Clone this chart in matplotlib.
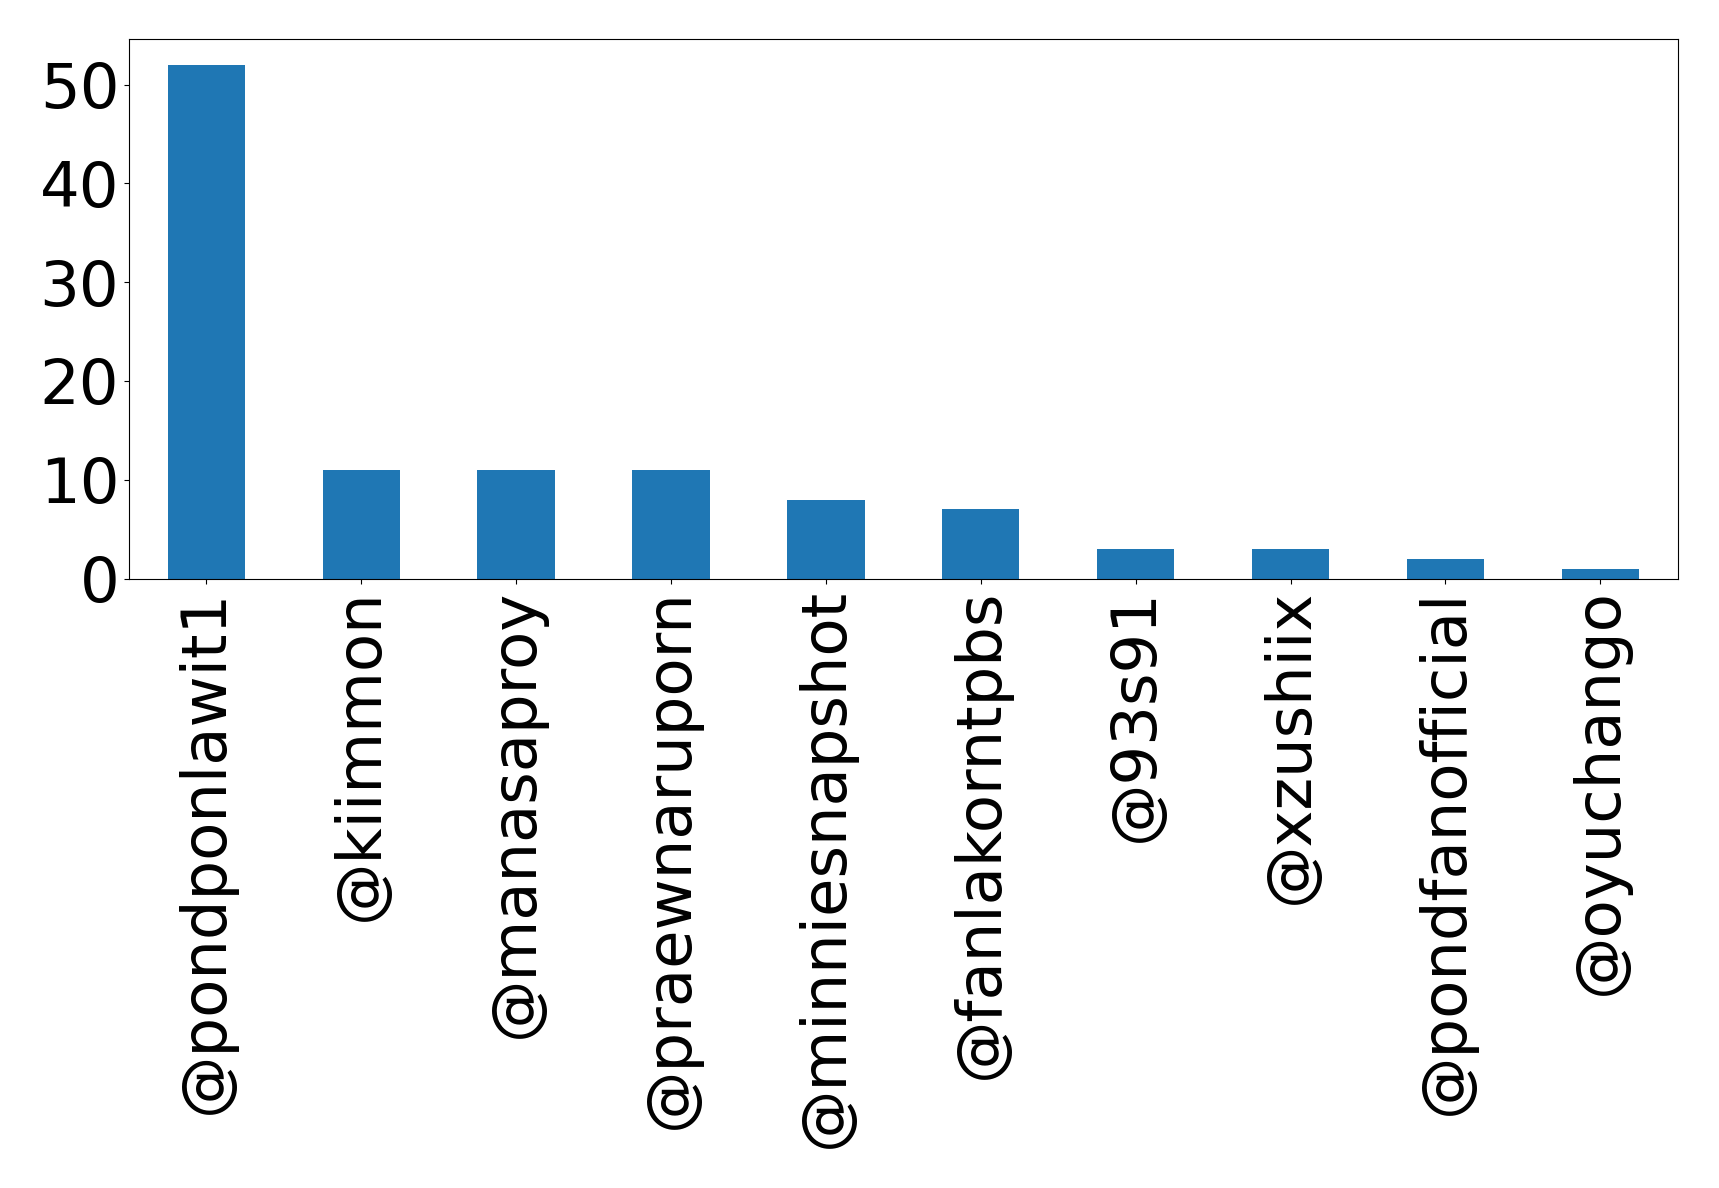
import matplotlib
matplotlib.use("Agg")
import matplotlib.pyplot as plt
import numpy as np

# Mention counts per account
accounts = ["@pondponlawit1", "@kiimmon", "@manasaproy", "@praewnaruporn",
            "@minniesnapshot", "@fanlakorntpbs", "@93s91", "@xzushiix",
            "@pondfanofficial", "@oyuchango"]
counts = [52, 11, 11, 11, 8, 7, 3, 3, 2, 1]

fig = plt.figure(figsize=(17.19, 11.88), dpi=100)
ax = fig.add_axes([0.075, 0.513, 0.901, 0.454])

x = np.arange(len(accounts))
ax.bar(x, counts, width=0.5, color="#1f77b4")
ax.set_xlim(-0.5, len(accounts) - 0.5)
ax.set_ylim(0, max(counts) * 1.05)

ax.set_xticks(x)
ax.set_xticklabels(accounts, rotation=90)
ax.set_yticks([0, 10, 20, 30, 40, 50])
ax.tick_params(axis='both', which='major', labelsize=45)

fig.savefig("out.png", dpi=100)
